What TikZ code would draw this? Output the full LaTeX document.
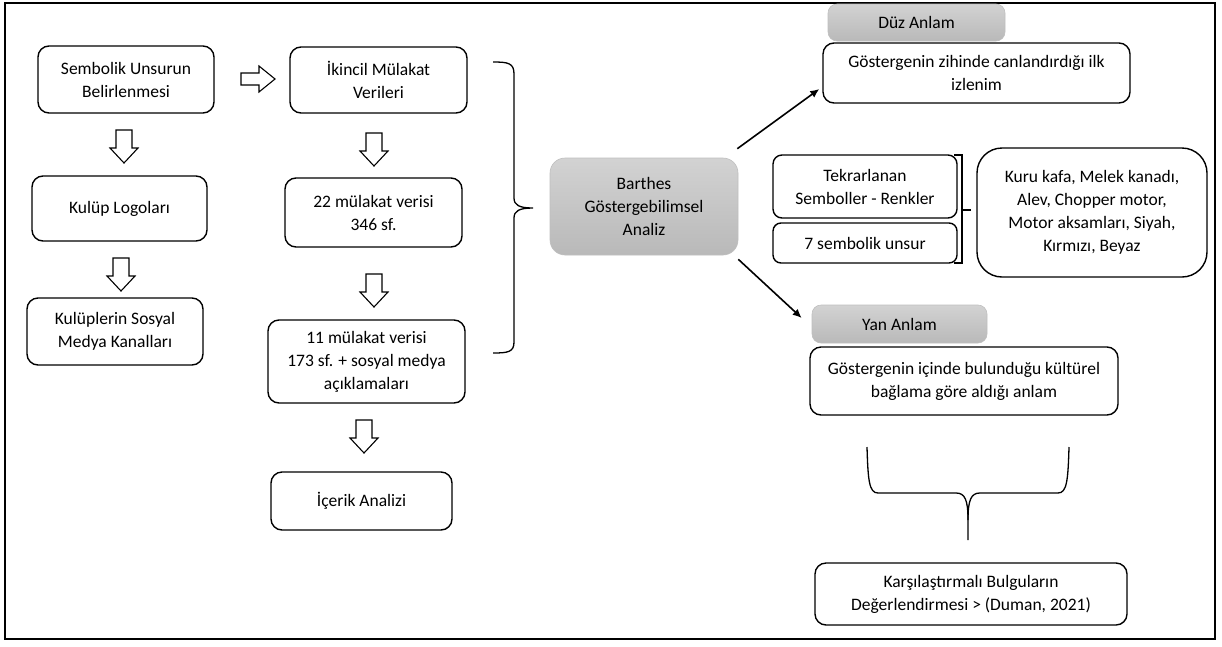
\documentclass[tikz,border=0pt]{standalone}
\usepackage{fontspec}
\setmainfont{Carlito}
\usetikzlibrary{arrows.meta}

\tikzset{
	kutu/.style={draw, line width=1.4pt, rounded corners=11pt, align=center, fill=white, inner sep=2pt},
	gri/.style={draw=gray!50, line width=0.6pt, rounded corners=9pt, align=center, top color=gray!35, bottom color=gray!55, inner sep=2pt},
	ok/.style={line width=1.6pt, -{Latex[length=9pt,width=8pt]}},
	asagi/.pic={\draw[line width=1.1pt, fill=white] (-8,0) -- (-8,18) -- (-14,18) -- (0,33) -- (14,18) -- (8,18) -- (8,0) -- cycle;},
	saga/.pic={\draw[line width=1.1pt, fill=white] (0,-6) -- (18,-6) -- (18,-13) -- (34,0) -- (18,13) -- (18,6) -- (0,6) -- cycle;}
}

\begin{document}
\begin{tikzpicture}[x=1pt,y=-1pt,font=\fontsize{17.5}{23}\selectfont]
		\useasboundingbox (0,0) rectangle (1222,646);
		\draw[line width=1.5pt] (5,3) rectangle (1215,639);

		\node[kutu, minimum width=176pt, minimum height=67pt] (sembolik) at (126,79.5) {Sembolik Unsurun\\Belirlenmesi};
		\node[kutu, minimum width=175pt, minimum height=65pt] (logo) at (119.5,208.5) {Kulüp Logoları};
		\node[kutu, minimum width=176pt, minimum height=67pt] (kanal) at (115,331.5) {Kulüplerin Sosyal\\Medya Kanalları};
		\pic (ok1) at (124,130) {asagi};
		\pic (ok2) at (121,258) {asagi};
		\pic (ok3) at (241,79) {saga};

		\node[kutu, minimum width=177pt, minimum height=66pt] (ikincil) at (378.5,80) {İkincil Mülakat\\Verileri};
		\node[kutu, minimum width=177pt, minimum height=69pt] (veri22) at (373.5,212.5) {22 mülakat verisi\\346 sf.};
		\node[kutu, minimum width=197pt, minimum height=83pt] (veri11) at (366.5,361.5) {11 mülakat verisi\\173 sf. + sosyal medya\\açıklamaları};
		\node[kutu, minimum width=181pt, minimum height=58pt] (icerik) at (361.5,501) {İçerik Analizi};
		\pic (ok4) at (374,133) {asagi};
		\pic (ok5) at (374,274) {asagi};
		\pic (ok6) at (364,420) {asagi};

		\draw[line width=1.3pt] (493,62) .. controls (508,62) and (514,63) .. (514,74) -- (514,198) .. controls (514,205) and (519,208) .. (533,208) .. controls (519,208) and (514,211) .. (514,218) -- (514,342) .. controls (514,352) and (508,353) .. (493,353);

		\node[gri, minimum width=188pt, minimum height=97pt, rounded corners=15pt] (barthes) at (644,206.5) {Barthes\\Göstergebilimsel\\Analiz};

		\node[gri, minimum width=177pt, minimum height=37pt] (duz) at (916.5,22.5) {Düz Anlam};
		\node[kutu, minimum width=307pt, minimum height=60pt] (zihin) at (976.5,73) {Göstergenin zihinde canlandırdığı ilk\\izlenim};
		\node[kutu, rounded corners=9pt, minimum width=184pt, minimum height=63pt] (tekrar) at (865,186.5) {Tekrarlanan\\Semboller - Renkler};
		\node[kutu, rounded corners=8pt, minimum width=184pt, minimum height=40pt] (yedi) at (865,243) {7 sembolik unsur};
		\node[kutu, rounded corners=25pt, minimum width=230pt, minimum height=129pt] (kurukafa) at (1092,212.5) {Kuru kafa, Melek kanadı,\\Alev, Chopper motor,\\Motor aksamları, Siyah,\\Kırmızı, Beyaz};
		\draw[line width=1.3pt] (954,155) -- (962,155) -- (962,263) -- (954,263);
		\draw[line width=1.3pt] (962,210) -- (971,210);

		\node[gri, minimum width=175pt, minimum height=38pt] (yan) at (899.5,324) {Yan Anlam};
		\node[kutu, minimum width=308pt, minimum height=68pt] (kultur) at (964,381) {Göstergenin içinde bulunduğu kültürel\\bağlama göre aldığı anlam};

		\draw[line width=1.3pt] (867,447) .. controls (868,480) and (869,493) .. (878,493) -- (956,493) .. controls (965,493) and (968,500) .. (968,520) -- (968,540);
		\draw[line width=1.3pt] (1069,447) .. controls (1068,480) and (1067,493) .. (1058,493) -- (980,493) .. controls (971,493) and (968,500) .. (968,520);

		\node[kutu, minimum width=312pt, minimum height=62pt] (bulgu) at (971,594) {Karşılaştırmalı Bulguların\\Değerlendirmesi > (Duman, 2021)};

		\draw[ok] ([xshift=-1pt,yshift=9pt]barthes.north east) -- ([xshift=-3pt,yshift=-16pt]zihin.west);
		\draw[ok] ([yshift=-4pt]barthes.south east) -- ([xshift=-10pt,yshift=6pt]yan.west);
\end{tikzpicture}
\end{document}
